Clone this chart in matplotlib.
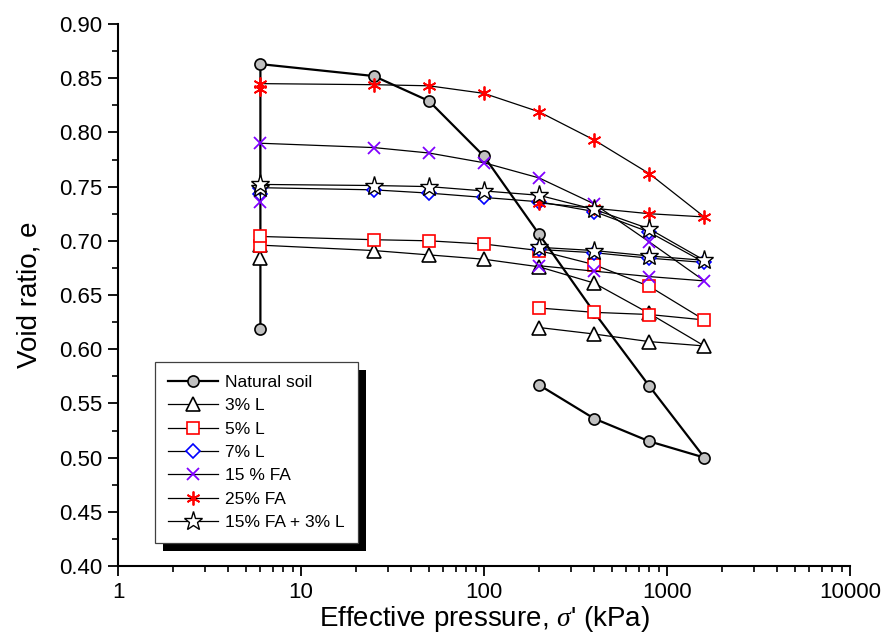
import matplotlib
matplotlib.use("Agg")
import matplotlib.pyplot as plt
from matplotlib.patches import Rectangle
from matplotlib.ticker import MultipleLocator, FixedLocator, LogLocator, NullFormatter, FuncFormatter

plt.rcParams['font.family'] = ['Liberation Sans', 'DejaVu Sans']
plt.rcParams['mathtext.fontset'] = 'custom'
plt.rcParams['mathtext.it'] = 'Liberation Serif:italic'
plt.rcParams['mathtext.rm'] = 'Liberation Sans'

# pressures: start (low), start (high), loading ..., unloading ...
pressure = [6, 6, 25, 50, 100, 200, 400, 800, 1600, 800, 400, 200]

natural_soil = [0.619, 0.863, 0.852, 0.829, 0.778, 0.706, 0.634, 0.566, 0.500, 0.515, 0.536, 0.567]
lime_3 = [0.684, 0.696, 0.691, 0.687, 0.683, 0.676, 0.661, 0.633, 0.603, 0.607, 0.614, 0.620]
lime_5 = [0.695, 0.704, 0.701, 0.700, 0.697, 0.691, 0.678, 0.658, 0.627, 0.632, 0.634, 0.638]
lime_7 = [0.743, 0.749, 0.747, 0.744, 0.740, 0.736, 0.727, 0.708, 0.680, 0.684, 0.689, 0.692]
fa_15 = [0.736, 0.790, 0.786, 0.781, 0.772, 0.758, 0.734, 0.699, 0.663, 0.667, 0.672, 0.677]
fa_25 = [0.840, 0.845, 0.844, 0.843, 0.836, 0.819, 0.793, 0.762, 0.722, 0.725, 0.730, 0.735]
fa15_l3 = [0.749, 0.752, 0.751, 0.750, 0.746, 0.742, 0.729, 0.711, 0.682, 0.686, 0.691, 0.694]

labels = ['Natural soil', '3% L', '5% L', '7% L', '15 % FA', '25% FA', '15% FA + 3% L']
x_ticks = [1, 10, 100, 1000, 10000]

fig = plt.figure(figsize=(8.85, 6.39), dpi=100)
ax = fig.add_axes([118/885, 1-566/639, (850-118)/885, (566-24)/639])

lw_thin = 0.9
ax.plot(pressure, natural_soil, '-', color='black', lw=1.6, marker='o', ms=8,
        mfc='#c0c0c0', mec='black', mew=1.2, label=labels[0], zorder=2)
ax.plot(pressure, lime_3, '-', color='black', lw=lw_thin, marker='^', ms=9.5,
        mfc='white', mec='black', mew=1.2, label=labels[1], zorder=3)
ax.plot(pressure, lime_5, '-', color='black', lw=lw_thin, marker='s', ms=8,
        mfc='white', mec='#ff0000', mew=1.2, label=labels[2], zorder=3)
ax.plot(pressure, lime_7, '-', color='black', lw=lw_thin, marker='D', ms=7.5,
        mfc='white', mec='#0000ff', mew=1.2, label=labels[3], zorder=3)
ax.plot(pressure, fa_15, '-', color='black', lw=lw_thin, marker='x', ms=8,
        mec='#8000ff', mew=1.3, label=labels[4], zorder=3)
ax.plot(pressure, fa_25, '-', color='black', lw=lw_thin, marker=(6, 2, 0), ms=10,
        mec='#ff0000', mew=1.3, label=labels[5], zorder=3)
ax.plot(pressure, fa15_l3, '-', color='black', lw=lw_thin, marker='*', ms=14,
        mfc='white', mec='black', mew=1.0, label=labels[6], zorder=3)

ax.set_xscale('log')
ax.set_xlim(1, 10000)
ax.set_ylim(0.40, 0.90)
ax.xaxis.set_major_locator(FixedLocator(x_ticks))
ax.xaxis.set_major_formatter(FuncFormatter(lambda v, p: f"{int(round(v))}"))
ax.xaxis.set_minor_locator(LogLocator(base=10, subs=range(2, 10)))
ax.xaxis.set_minor_formatter(NullFormatter())
ax.yaxis.set_major_locator(MultipleLocator(0.05))
ax.yaxis.set_minor_locator(MultipleLocator(0.025))
ax.yaxis.set_major_formatter(FuncFormatter(lambda v, p: f"{v:.2f}"))

for s in ['top', 'right']:
    ax.spines[s].set_visible(False)
for s in ['left', 'bottom']:
    ax.spines[s].set_linewidth(1.5)
ax.tick_params(which='major', direction='out', length=7.5, width=1.3, labelsize=16, pad=4)
ax.tick_params(which='minor', direction='out', length=4, width=1.2)

ax.set_xlabel("Effective pressure, $\\sigma$' (kPa)", fontsize=20, labelpad=1)
ax.set_ylabel("Void ratio, e", fontsize=20, labelpad=12)

leg = ax.legend(loc='lower left', bbox_to_anchor=((155-118)/732, (566-543)/542),
                borderaxespad=0, fancybox=False, framealpha=1, edgecolor='#404040',
                fontsize=12.5, handlelength=2.9, labelspacing=0.47, borderpad=0.75,
                handletextpad=0.4)
leg.get_frame().set_linewidth(0.9)
leg.set_zorder(10)

fig.canvas.draw()
bb = leg.get_window_extent().transformed(fig.transFigure.inverted())
off_x, off_y = 8/885, 8/639
shadow = Rectangle((bb.x0 + off_x, bb.y0 - off_y), bb.width, bb.height,
                   transform=fig.transFigure, facecolor='black', edgecolor='none', zorder=9)
ax.add_artist(shadow)
shadow.set_clip_on(False)

fig.savefig('out.png', dpi=100)
